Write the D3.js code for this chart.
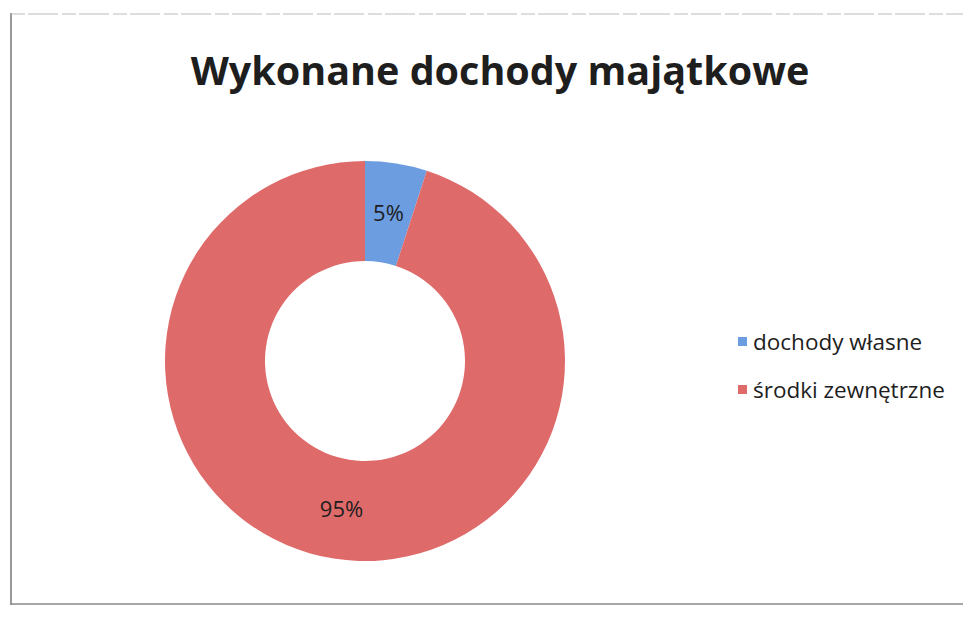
<!DOCTYPE html>
<html>
<head>
<meta charset="utf-8">
<script src="https://cdn.jsdelivr.net/npm/d3@7"></script>
<style>
  body { margin: 0; background: #fff; }
  svg { display: block; font-family: "Open Sans", sans-serif; }
</style>
</head>
<body>
<svg id="chart" width="963" height="628"></svg>
<script>
// Donut: share of own income vs external funds
const categories = ['dochody własne', 'środki zewnętrzne'];
const values = [5, 95];
const colors = ['#6c9de0', '#df6a6a'];
const title = 'Wykonane dochody majątkowe';

const svg = d3.select('#chart');

// scanned frame
const frame = svg.append('g').attr('fill', 'none');
frame.append('line').attr('x1', 11).attr('y1', 13).attr('x2', 11).attr('y2', 605)
  .attr('stroke', '#555').attr('stroke-width', 1.2);
frame.append('line').attr('x1', 11).attr('y1', 14).attr('x2', 963).attr('y2', 14)
  .attr('stroke', '#bbb').attr('stroke-width', 1).attr('stroke-dasharray', '14 3 30 4');
frame.append('line').attr('x1', 11).attr('y1', 604).attr('x2', 963).attr('y2', 604)
  .attr('stroke', '#888').attr('stroke-width', 1.5);

svg.append('text')
  .attr('x', 500).attr('y', 85)
  .attr('text-anchor', 'middle')
  .attr('font-size', 39.5).attr('font-weight', 700)
  .attr('fill', '#1e1e1e')
  .text(title);

const cx = 365, cy = 361, outerR = 200, innerR = 100;
const pie = d3.pie().sort(null)(values);
const arc = d3.arc().innerRadius(innerR).outerRadius(outerR);

const g = svg.append('g').attr('transform', `translate(${cx},${cy})`);
g.selectAll('path').data(pie).join('path')
  .attr('d', arc)
  .attr('fill', (d, i) => colors[i]);

const total = d3.sum(values);
g.selectAll('text').data(pie).join('text')
  .attr('transform', (d) => `translate(${arc.centroid(d)})`)
  .attr('text-anchor', 'middle')
  .attr('dy', '0.35em')
  .attr('font-size', 22)
  .attr('fill', '#1e1e1e')
  .text((d) => `${Math.round(d.value / total * 100)}%`);

const legend = svg.append('g').attr('transform', 'translate(738,342)');
const rows = legend.selectAll('g').data(categories).join('g')
  .attr('transform', (d, i) => `translate(0,${i * 48})`);
rows.append('rect').attr('x', 0).attr('y', -5).attr('width', 9).attr('height', 9)
  .attr('fill', (d, i) => colors[i]);
rows.append('text').attr('x', 15).attr('dy', '0.35em')
  .attr('font-size', 22.5).attr('fill', '#1e1e1e')
  .text((d) => d);
</script>
</body>
</html>
